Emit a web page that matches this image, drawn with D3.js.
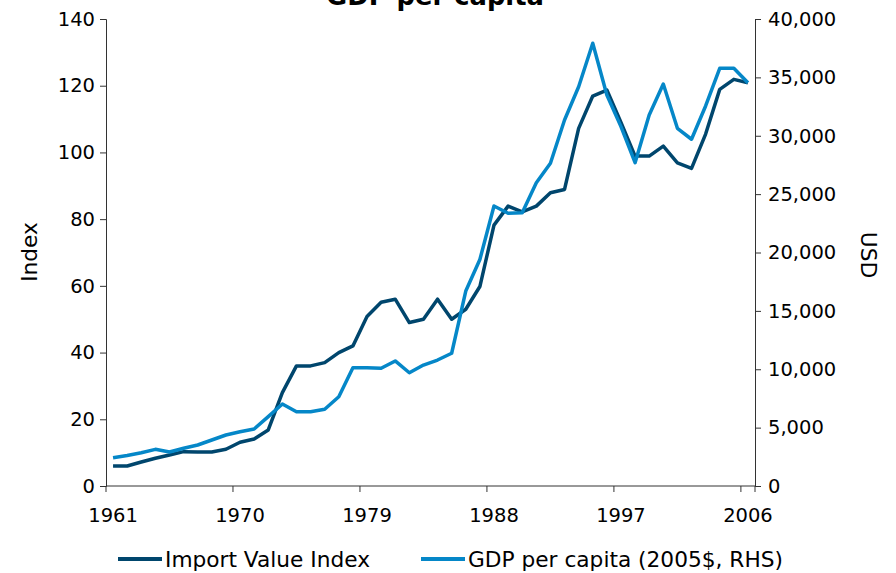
<!DOCTYPE html>
<html><head><meta charset="utf-8">
<script src="https://cdn.jsdelivr.net/npm/d3@7"></script>
<style>body{margin:0;background:#fff}svg{display:block;font-family:"DejaVu Sans",Verdana,sans-serif}</style>
</head><body>
<svg id="c" width="896" height="573"></svg>
<script>
const years = d3.range(1961, 2007);
const importIndex = [6,6,7.2,8.3,9.3,10.3,10.2,10.2,11,13.1,14.1,16.8,28,36,36,37,40,42,50.8,55.1,56,49,50,56,50,53,59.8,78.2,83.9,82.2,83.9,87.9,88.9,107.2,116.9,118.7,109,98.9,98.9,101.9,96.9,95.2,105.5,118.9,121.9,120.9];
const gdpPerCapita = [2420,2610,2850,3140,2910,3230,3510,3940,4370,4650,4880,5940,7020,6360,6360,6570,7650,10130,10130,10080,10710,9700,10360,10790,11370,16700,19400,23980,23360,23410,25980,27640,31350,34200,37920,33490,30780,27690,31780,34430,30640,29700,32550,35780,35780,34540];
const leftTicks = [0,20,40,60,80,100,120,140];
const rightTicks = [0,5000,10000,15000,20000,25000,30000,35000,40000];
const xLabelYears = [1961,1970,1979,1988,1997,2006];
const seriesNames = ["Import Value Index","GDP per capita (2005$, RHS)"];
const colors = ["#00466d","#0587c8"];

const svg = d3.select("#c");
const L = 106, R = 755, T = 19, B = 486;
const x = d3.scaleBand().domain(years).range([L, R]).paddingInner(0).paddingOuter(0);
const yL = d3.scaleLinear().domain([0,140]).range([B,T]);
const yR = d3.scaleLinear().domain([0,40000]).range([B,T]);
const cx = d => x(d) + x.bandwidth()/2;
const fs = 19.5, fsBig = 21.7;

// title
svg.append("text").attr("x",435).attr("y",4.5).attr("text-anchor","middle")
  .attr("font-weight","bold").attr("font-size",25.8).attr("fill","#000").text("GDP per capita");

// left axis
const gL = svg.append("g").attr("transform",`translate(${L},0)`)
  .call(d3.axisLeft(yL).tickValues(leftTicks).tickSize(6).tickPadding(5));
// right axis
const gR = svg.append("g").attr("transform",`translate(${R},0)`)
  .call(d3.axisRight(yR).tickValues(rightTicks).tickSize(6).tickPadding(7).tickFormat(d3.format(",")));
// bottom axis: ticks at band boundaries every 9 years, labels at band centres
const gB = svg.append("g").attr("transform",`translate(0,${B})`);
gB.append("line").attr("x1",L).attr("x2",R).attr("y1",0).attr("y2",0).attr("stroke","#333");
xLabelYears.forEach(yr => {
  gB.append("line").attr("x1",x(yr)).attr("x2",x(yr)).attr("y1",0).attr("y2",6).attr("stroke","#333");
  gB.append("text").attr("x",cx(yr)).attr("y",36).attr("text-anchor","middle")
    .attr("font-size",fs).attr("fill","#000").text(yr);
});
gB.append("line").attr("x1",R).attr("x2",R).attr("y1",0).attr("y2",6).attr("stroke","#333");

[gL,gR].forEach(g=>{
  g.selectAll("path.domain").attr("stroke","#333");
  g.selectAll(".tick line").attr("stroke","#333");
  g.selectAll(".tick text").attr("font-size",fs).attr("fill","#000").attr("font-family","DejaVu Sans, Verdana, sans-serif");
});

// axis titles
svg.append("text").attr("transform","translate(37,252) rotate(-90)").attr("text-anchor","middle")
  .attr("font-size",fsBig).attr("fill","#000").text("Index");
svg.append("text").attr("transform","translate(861,255) rotate(90)").attr("text-anchor","middle")
  .attr("font-size",fsBig).attr("fill","#000").text("USD");

// lines
const lineL = d3.line().x((d,i)=>cx(years[i])).y(d=>yL(d));
const lineR = d3.line().x((d,i)=>cx(years[i])).y(d=>yR(d));
svg.append("path").datum(importIndex).attr("d",lineL).attr("fill","none")
  .attr("stroke",colors[0]).attr("stroke-width",3.5).attr("stroke-linejoin","round");
svg.append("path").datum(gdpPerCapita).attr("d",lineR).attr("fill","none")
  .attr("stroke",colors[1]).attr("stroke-width",3.5).attr("stroke-linejoin","round");

// legend
const legX = [118, 421];
seriesNames.forEach((n,i)=>{
  svg.append("line").attr("x1",legX[i]).attr("x2",legX[i]+44).attr("y1",559).attr("y2",559)
    .attr("stroke",colors[i]).attr("stroke-width",4);
  svg.append("text").attr("x",legX[i]+47).attr("y",567).attr("font-size",fsBig).attr("fill","#000").text(n);
});
</script>
</body></html>
